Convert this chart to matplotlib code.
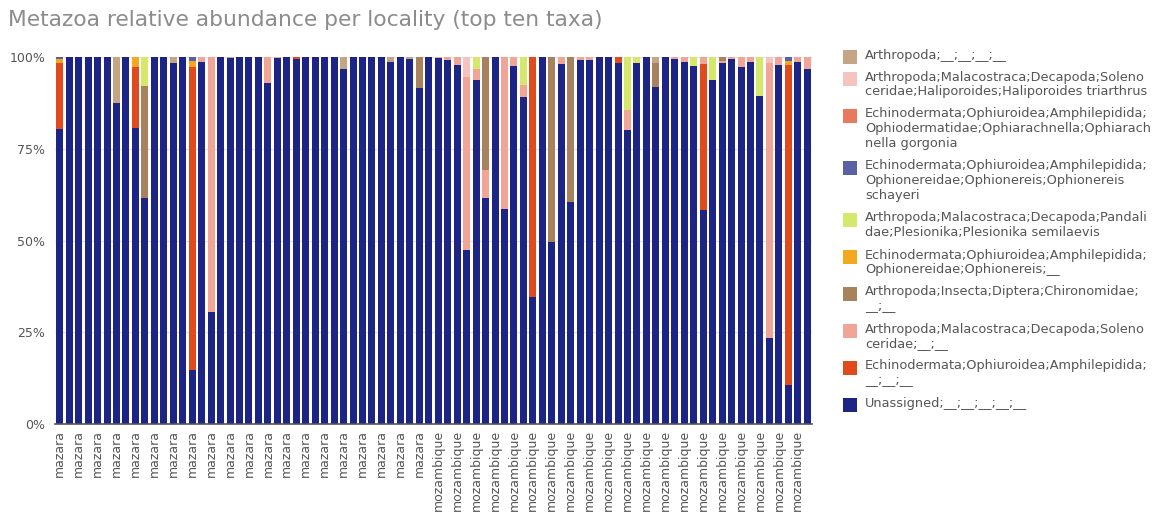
import numpy as np
import matplotlib
matplotlib.use("Agg")
import matplotlib.pyplot as plt
from matplotlib.patches import Rectangle

W, H = 1156, 514

# localities, one per sample bar
localities = ["mazara"] * 40 + ["mozambique"] * 40

# relative abundance (%) per sample, stacked bottom -> top
unassigned = [80.4, 100, 100, 100, 100, 100, 87.5, 100, 80.6, 61.6,
              100, 100, 98.5, 100, 14.8, 98.6, 30.5, 100, 99.7, 100,
              100, 100, 92.8, 99.6, 100, 99.5, 100, 100, 100, 100,
              96.7, 100, 100, 100, 100, 98.7, 100, 99.5, 91.5, 100,
              99.6, 99.2, 97.8, 47.4, 93.6, 61.5, 100, 58.5, 97.6, 89.2,
              34.6, 100, 49.7, 98.2, 60.4, 99.3, 99.2, 100, 100, 98.4,
              80.1, 98.3, 100, 91.7, 100, 99.5, 98.7, 97.6, 58.4, 93.7,
              98.4, 99.5, 97.3, 98.7, 89.5, 23.5, 97.9, 10.6, 98.6, 96.7]
amphilepidida = [18.1, 0, 0, 0, 0, 0, 0, 0, 16.6, 0,
                 0, 0, 0, 0, 82.4, 0, 0, 0, 0, 0,
                 0, 0, 0, 0, 0, 0.5, 0, 0, 0, 0,
                 0, 0, 0, 0, 0, 0, 0, 0, 0, 0,
                 0, 0, 0, 0, 0, 0, 0, 0, 0, 0,
                 65.4, 0, 0, 0, 0, 0, 0, 0, 0, 1.6,
                 0, 0, 0, 0, 0, 0, 0, 0, 39.6, 0,
                 0, 0, 0, 0, 0, 0, 0, 87.2, 0, 0]
solenoceridae = [0, 0, 0, 0, 0, 0, 0, 0, 0, 0,
                 0, 0, 0, 0, 0, 1.4, 69.5, 0, 0, 0,
                 0, 0, 7.2, 0.4, 0, 0, 0, 0, 0, 0,
                 0, 0, 0, 0, 0, 0, 0, 0, 0, 0,
                 0.4, 0.8, 2.2, 47.1, 3.2, 7.6, 0, 41.5, 2.4, 3.3,
                 0, 0, 0, 1.8, 0, 0.7, 0.8, 0, 0, 0,
                 5.5, 0, 0, 0, 0, 0.5, 1.3, 0, 2.0, 0,
                 0.4, 0.5, 2.7, 1.3, 0, 75.0, 2.1, 0, 1.4, 3.3]
chironomidae = [0, 0, 0, 0, 0, 0, 0, 0, 0, 30.6,
                0, 0, 0, 0, 0, 0, 0, 0, 0, 0,
                0, 0, 0, 0, 0, 0, 0, 0, 0, 0,
                0, 0, 0, 0, 0, 0, 0, 0, 8.5, 0,
                0, 0, 0, 0, 0, 30.9, 0, 0, 0, 0,
                0, 0, 50.3, 0, 39.6, 0, 0, 0, 0, 0,
                0, 0, 0, 6.8, 0, 0, 0, 0, 0, 0,
                1.2, 0, 0, 0, 0, 0, 0, 0, 0, 0]
ophionereis = [0.9, 0, 0, 0, 0, 0, 0, 0, 2.8, 0,
               0, 0, 0, 0, 1.6, 0, 0, 0, 0, 0,
               0, 0, 0, 0, 0, 0, 0, 0, 0, 0,
               0, 0, 0, 0, 0, 0, 0, 0, 0, 0,
               0, 0, 0, 0, 0, 0, 0, 0, 0, 0,
               0, 0, 0, 0, 0, 0, 0, 0, 0, 0,
               0, 0, 0, 0, 0, 0, 0, 0, 0, 0,
               0, 0, 0, 0, 0, 0, 0, 1.1, 0, 0]
plesionika = [0, 0, 0, 0, 0, 0, 0, 0, 0, 7.8,
              0, 0, 0, 0, 0, 0, 0, 0, 0, 0,
              0, 0, 0, 0, 0, 0, 0, 0, 0, 0,
              0, 0, 0, 0, 0, 0, 0, 0, 0, 0,
              0, 0, 0, 0, 3.2, 0, 0, 0, 0, 7.5,
              0, 0, 0, 0, 0, 0, 0, 0, 0, 0,
              14.4, 1.7, 0, 0, 0, 0, 0, 2.4, 0, 6.3,
              0, 0, 0, 0, 10.5, 0, 0, 0, 0, 0]
schayeri = [0.6, 0, 0, 0, 0, 0, 0, 0, 0, 0,
            0, 0, 0, 0, 1.2, 0, 0, 0, 0, 0,
            0, 0, 0, 0, 0, 0, 0, 0, 0, 0,
            0, 0, 0, 0, 0, 0, 0, 0, 0, 0,
            0, 0, 0, 0, 0, 0, 0, 0, 0, 0,
            0, 0, 0, 0, 0, 0, 0, 0, 0, 0,
            0, 0, 0, 0, 0, 0, 0, 0, 0, 0,
            0, 0, 0, 0, 0, 0, 0, 1.1, 0, 0]
gorgonia = [0] * 80
haliporoides = [0, 0, 0, 0, 0, 0, 0, 0, 0, 0,
                0, 0, 0, 0, 0, 0, 0, 0, 0, 0,
                0, 0, 0, 0, 0, 0, 0, 0, 0, 0,
                0, 0, 0, 0, 0, 0, 0, 0, 0, 0,
                0, 0, 0, 5.5, 0, 0, 0, 0, 0, 0,
                0, 0, 0, 0, 0, 0, 0, 0, 0, 0,
                0, 0, 0, 0, 0, 0, 0, 0, 0, 0,
                0, 0, 0, 0, 0, 1.5, 0, 0, 0, 0]
arthropoda = [0, 0, 0, 0, 0, 0, 12.5, 0, 0, 0,
              0, 0, 1.5, 0, 0, 0, 0, 0, 0.3, 0,
              0, 0, 0, 0, 0, 0, 0, 0, 0, 0,
              3.3, 0, 0, 0, 0, 1.3, 0, 0.5, 0, 0,
              0, 0, 0, 0, 0, 0, 0, 0, 0, 0,
              0, 0, 0, 0, 0, 0, 0, 0, 0, 0,
              0, 0, 0, 1.5, 0, 0, 0, 0, 0, 0,
              0, 0, 0, 0, 0, 0, 0, 0, 0, 0]

# taxa in stacking order (bottom -> top)
taxa = [
    "Unassigned;__;__;__;__;__",
    "Echinodermata;Ophiuroidea;Amphilepidida;\n__;__;__",
    "Arthropoda;Malacostraca;Decapoda;Soleno\nceridae;__;__",
    "Arthropoda;Insecta;Diptera;Chironomidae;\n__;__",
    "Echinodermata;Ophiuroidea;Amphilepidida;\nOphionereidae;Ophionereis;__",
    "Arthropoda;Malacostraca;Decapoda;Pandali\ndae;Plesionika;Plesionika semilaevis",
    "Echinodermata;Ophiuroidea;Amphilepidida;\nOphionereidae;Ophionereis;Ophionereis\nschayeri",
    "Echinodermata;Ophiuroidea;Amphilepidida;\nOphiodermatidae;Ophiarachnella;Ophiarach\nnella gorgonia",
    "Arthropoda;Malacostraca;Decapoda;Soleno\nceridae;Haliporoides;Haliporoides triarthrus",
    "Arthropoda;__;__;__;__",
]
series = [unassigned, amphilepidida, solenoceridae, chironomidae, ophionereis,
          plesionika, schayeri, gorgonia, haliporoides, arthropoda]
colors = ["#1c2485", "#e04b1e", "#f1a596", "#a7825c", "#f3a81f",
          "#d5e86c", "#5a60a6", "#e8795c", "#f6c4c0", "#c4a684"]

fig = plt.figure(figsize=(W / 100, H / 100), dpi=100)
ax = fig.add_axes([55 / W, 1 - 424 / H, (812 - 55) / W, (424 - 57) / H])

x = np.arange(len(localities))
bottom = np.zeros(len(x))
for vals, col in zip(series, colors):
    v = np.array(vals) / 100.0
    ax.bar(x, v, bottom=bottom, width=0.74, color=col, linewidth=0, zorder=2)
    bottom += v

ax.set_xlim(-0.5, len(x) - 0.5)
ax.set_ylim(0, 1.0)
ax.set_yticks([0, 0.25, 0.5, 0.75, 1.0])
ax.set_yticklabels(["0%", "25%", "50%", "75%", "100%"])
ax.set_xticks(x[::2])
ax.set_xticklabels(localities[::2], rotation=90)
ax.tick_params(axis="both", length=0, labelsize=9, labelcolor="#555555")
ax.tick_params(axis="x", pad=4)
ax.tick_params(axis="y", pad=7)
ax.grid(axis="y", color="#e3e3e8", linewidth=1, zorder=0)
ax.set_axisbelow(True)
for s in ["top", "right", "left"]:
    ax.spines[s].set_visible(False)
ax.spines["bottom"].set_color("#555555")
ax.spines["bottom"].set_linewidth(1.2)
ax.spines["bottom"].set_zorder(3)

fig.text(8 / W, 1 - 20 / H, "Metazoa relative abundance per locality (top ten taxa)",
         fontsize=15.7, color="#8c8c8c", va="center", ha="left")

# legend, top entry = top of stack
y = 57
for lab, col in zip(taxa[::-1], colors[::-1]):
    fig.add_artist(Rectangle((843 / W, 1 - (y + 7) / H), 14 / W, 14 / H,
                             transform=fig.transFigure, color=col, linewidth=0))
    fig.text(865 / W, 1 - (y - 8.5) / H, lab, fontsize=9.3, color="#555555",
             va="top", ha="left", linespacing=1.16)
    y += lab.count("\n") * 15 + 15 + 7

fig.savefig("out.png", dpi=100)
